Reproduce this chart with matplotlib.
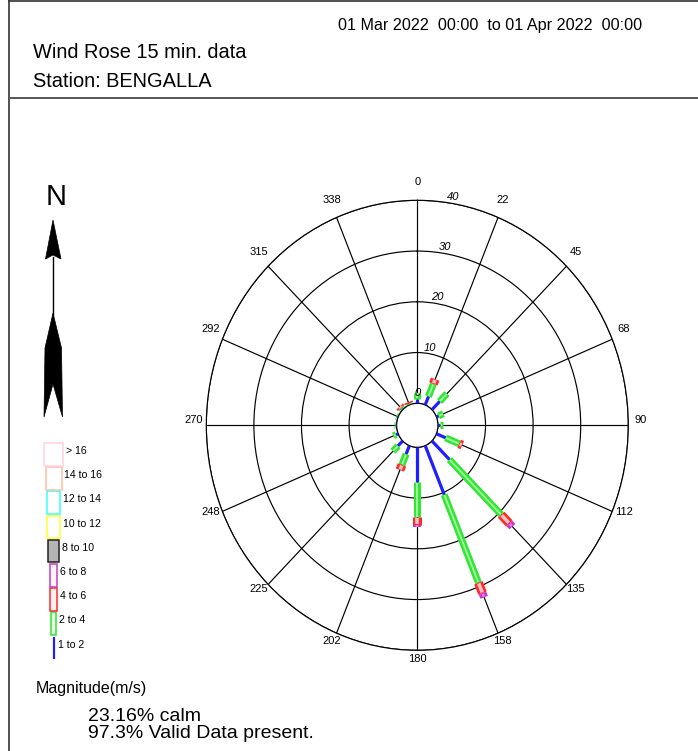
import numpy as np
import matplotlib
matplotlib.use("Agg")
import matplotlib.pyplot as plt
import matplotlib.transforms as mtransforms
from matplotlib.patches import Rectangle, Polygon
from matplotlib.lines import Line2D

# ---- data -------------------------------------------------------------
directions = np.arange(16) * 22.5
direction_labels = ["0", "22", "45", "68", "90", "112", "135", "158",
                    "180", "202", "225", "248", "270", "292", "315", "338"]

# percentage of observations per direction for each speed class (m/s)
pct_1_2 = [0.8, 1.8, 2.3, 0.5, 0.4, 2.1, 5.2, 10.45, 6.8, 1.8, 1.4, 0.5, 0.3, 0.2, 0.2, 0.1]
pct_2_4 = [1.3, 2.7, 2.2, 1.1, 0.7, 3.1, 15.4, 18.8, 7.0, 2.3, 1.5, 0.6, 0.3, 0.2, 0.3, 0.2]
pct_4_6 = [0.0, 1.0, 0.0, 0.0, 0.0, 0.7, 2.4, 2.2, 1.5, 1.1, 0.0, 0.0, 0.0, 0.0, 0.4, 0.3]
pct_6_8 = [0.0, 0.0, 0.0, 0.0, 0.0, 0.0, 0.9, 0.9, 0.45, 0.0, 0.0, 0.0, 0.0, 0.0, 0.0, 0.0]

ring_values = [0, 10, 20, 30, 40]
speed_classes = ["1 to 2", "2 to 4", "4 to 6", "6 to 8", "8 to 10",
                 "10 to 12", "12 to 14", "14 to 16", "> 16"]

calm_percent = 23.16
valid_percent = 97.3
title = "Wind Rose 15 min. data"
station = "Station: BENGALLA"
period = "01 Mar 2022  00:00  to 01 Apr 2022  00:00"

# ---- styles -----------------------------------------------------------
FONT = "Liberation Sans"
W, H, DPI = 698, 751, 100
PT = 72.0 / DPI  # points per pixel

# (edge colour, edge width px, inner colour, inner width px) for rose bars
bar_styles = [
    ("#1f1fff", 3.2, None, 0.0),
    ("#33e633", 7.0, "#a6ffa6", 1.8),
    ("#ff2a2a", 9.0, "#ffc4c4", 3.6),
    ("#c23ac2", 8.0, "#ff70ff", 2.5),
]
# (edge colour, fill colour, width px) for the key boxes
key_styles = [
    ("#1f1fff", "#1f1fff", 2.2),
    ("#33e033", "#e4ffe4", 4.5),
    ("#ff2a2a", "#fff0f0", 6.5),
    ("#c040c0", "#fff4ff", 6.5),
    ("#222222", "#b4b4b4", 10.5),
    ("#ffff33", "#ffffff", 13.5),
    ("#33ffff", "#ffffff", 13.5),
    ("#ffbfa0", "#ffffff", 16.0),
    ("#ffd3e2", "#ffffff", 19.5),
]

fig = plt.figure(figsize=(W / DPI, H / DPI), dpi=DPI)
fig.patch.set_facecolor("white")
# pixel coordinates measured from the top-left corner
px = mtransforms.Affine2D().scale(1.0 / W, -1.0 / H).translate(0, 1) + fig.transFigure

# ---- frame and header -------------------------------------------------
fig.add_artist(Line2D([9, 9], [0, H], transform=px, color="#333333", lw=1.2))
fig.add_artist(Line2D([9, W], [1, 1], transform=px, color="#333333", lw=1.2))
fig.add_artist(Line2D([9, W], [98, 98], transform=px, color="#555555", lw=1.4))

fig.text(338, 30, period, transform=px, fontsize=11.6, family=FONT, va="baseline")
fig.text(33, 58, title, transform=px, fontsize=14.4, family=FONT, va="baseline")
fig.text(33, 87, station, transform=px, fontsize=14.4, family=FONT, va="baseline")

# ---- north arrow ------------------------------------------------------
fig.text(56, 205, "N", transform=px, fontsize=21, family=FONT, ha="center", va="baseline")
fig.add_artist(Polygon([(53, 220), (61, 259), (53, 255), (45.5, 259)], closed=True,
                       transform=px, facecolor="black", edgecolor="black", lw=0.5))
fig.add_artist(Line2D([53, 53], [257, 315], transform=px, color="black", lw=1.0))
fig.add_artist(Polygon([(53, 313), (61.5, 348), (62.5, 417), (53, 384), (44, 417), (45, 348)],
                       closed=True, transform=px, facecolor="black", edgecolor="black", lw=0.5))

# ---- speed key --------------------------------------------------------
key_cx, key_top, key_step, key_h = 53.5, 443.0, 24.2, 22.5
for i, (label, (ec, fc, w)) in enumerate(zip(speed_classes, key_styles)):
    top = key_top + (len(speed_classes) - 1 - i) * key_step
    if i == 0:
        fig.add_artist(Line2D([key_cx, key_cx], [top, top + key_h], transform=px,
                              color=ec, lw=w * PT, solid_capstyle="butt"))
    else:
        fig.add_artist(Rectangle((key_cx - w / 2, top), w, key_h, transform=px,
                                 facecolor=fc, edgecolor=ec, lw=1.1))
    fig.text(key_cx + w / 2 + 3, top + 8, label, transform=px, fontsize=7.6,
             family=FONT, va="center", ha="left")

fig.text(36, 693, "Magnitude(m/s)", transform=px, fontsize=11.5, family=FONT, va="baseline")
fig.text(88, 721, f"{calm_percent:.2f}% calm", transform=px, fontsize=14, family=FONT,
         va="baseline")
fig.text(88, 738, f"{valid_percent}% Valid Data present.", transform=px, fontsize=14,
         family=FONT, va="baseline")

# ---- rose -------------------------------------------------------------
cx, cy, rx, ry = 417.3, 425.3, 211.0, 225.0
ax = fig.add_axes([(cx - rx) / W, (H - cy - ry) / H, 2 * rx / W, 2 * ry / H],
                  projection="polar")
ax.set_aspect("auto")
ax.set_theta_zero_location("N")
ax.set_theta_direction(-1)
r_max = ring_values[-1]
calm_frac = 22.0 / ry
r_origin = calm_frac * r_max / (1 - calm_frac)
ax.set_ylim(0, r_max)
ax.set_rorigin(-r_origin)
ax.set_axisbelow(True)

theta = np.deg2rad(directions)
ax.set_xticks(theta)
ax.set_xticklabels([])
ax.set_yticks(ring_values)
ax.set_yticklabels([])
ax.grid(True, color="black", lw=0.85)
for name in ("polar", "inner"):
    if name in ax.spines:
        ax.spines[name].set_color("black")
        ax.spines[name].set_linewidth(0.85)
ax.patch.set_facecolor("white")

# stacked speed classes along each direction
classes = [pct_1_2, pct_2_4, pct_4_6, pct_6_8]
base = np.zeros(len(directions))
for values, (ec, ew, ic, iw) in zip(classes, bar_styles):
    values = np.asarray(values, dtype=float)
    for th, b, v in zip(theta, base, values):
        if v <= 0:
            continue
        ax.plot([th, th], [b, b + v], color=ec, lw=ew * PT, solid_capstyle="butt", zorder=3)
        if ic is not None and v > 0.35:
            inset = min(0.15, v * 0.2)
            ax.plot([th, th], [b + inset, b + v - inset], color=ic, lw=iw * PT,
                    solid_capstyle="butt", zorder=3.1)
    base = base + values

# direction labels round the outer ring
up = mtransforms.offset_copy(ax.transData, fig=fig, x=0, y=5, units="dots")
r_lab = 1.06 * (r_max + r_origin) - r_origin
for th, lab in zip(theta, direction_labels):
    ax.text(th, r_lab, lab, transform=up, ha="center", va="center",
            fontsize=8, family=FONT, clip_on=False)

# ring value labels
for v in ring_values:
    ang = np.deg2rad(0.5 if v == 0 else 9.5)
    ax.text(ang, v + (2.0 if v == 0 else 1.2), str(v), ha="center", va="center",
            fontsize=8, family=FONT, style="italic", zorder=4)

fig.savefig("out.png", dpi=DPI, facecolor="white")
